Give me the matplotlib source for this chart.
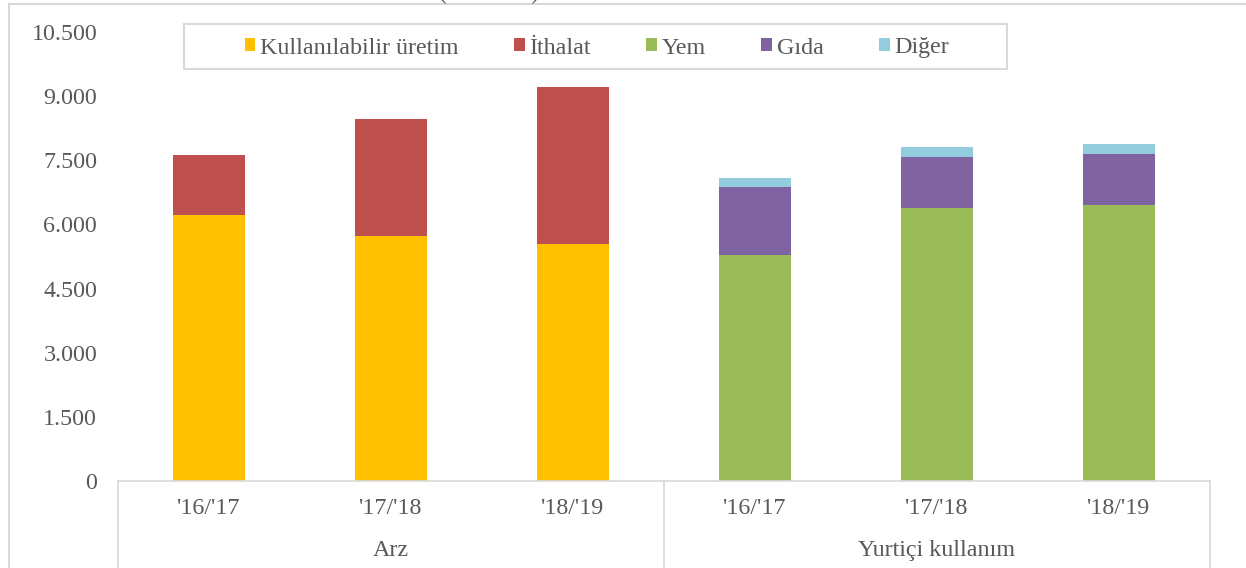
import matplotlib.pyplot as plt
import matplotlib.patches as mpatches
import matplotlib.transforms as mtransforms
from matplotlib.ticker import FuncFormatter
import numpy as np

# data (1000 ton)
periods = ["'16/'17", "'17/'18", "'18/'19", "'16/'17", "'17/'18", "'18/'19"]
groups = ["Arz", "Yurtiçi kullanım"]
uretim = [6220, 5740, 5545, 0, 0, 0]
ithalat = [1410, 2730, 3665, 0, 0, 0]
yem = [0, 0, 0, 5290, 6390, 6460]
gida = [0, 0, 0, 1575, 1190, 1180]
diger = [0, 0, 0, 225, 235, 245]

series = [("Kullanılabilir üretim", uretim, "#FFC000"),
          ("İthalat", ithalat, "#C0504D"),
          ("Yem", yem, "#9BBB59"),
          ("Gıda", gida, "#8064A2"),
          ("Diğer", diger, "#93CDDD")]

plt.rcParams['font.family'] = ['Liberation Serif', 'DejaVu Serif']
txt = "#595959"
grid_c = "#D9D9D9"
fs = 17.3

W, H = 1246, 568
fig = plt.figure(figsize=(W / 100, H / 100), dpi=100)
ax = fig.add_axes([118 / W, (H - 481) / H, 1092 / W, 449 / H])

x = np.arange(len(periods))
bottom = np.zeros(len(periods))
handles = []
for name, vals, col in series:
    vals = np.array(vals, dtype=float)
    b = ax.bar(x, vals, 0.4, bottom=bottom, color=col, label=name)
    handles.append(b)
    bottom += vals

ax.set_xlim(-0.5, 5.5)
ax.set_ylim(0, 10500)
ax.set_yticks(np.arange(0, 10501, 1500))
ax.yaxis.set_major_formatter(FuncFormatter(lambda v, p: f"{v:,.0f}".replace(",", ".")))
ax.tick_params(axis='y', length=0, pad=15, labelsize=fs, labelcolor=txt)
ax.set_xticks(x)
ax.set_xticklabels(periods)
ax.tick_params(axis='x', length=0, pad=12, labelsize=fs, labelcolor=txt)
for s in ['top', 'right', 'left']:
    ax.spines[s].set_visible(False)
ax.spines['bottom'].set_color(grid_c)
ax.spines['bottom'].set_linewidth(1.2)

# category group separators and labels
tr = mtransforms.blended_transform_factory(ax.transData, ax.transAxes)
for xs in [-0.5, 2.5, 5.5]:
    ax.plot([xs, xs], [0, -0.25], transform=tr, color=grid_c, lw=1.2, clip_on=False)
for i, g in enumerate(groups):
    ax.text(1 + 3 * i, -0.155, g, transform=tr, ha='center', va='center',
            fontsize=fs, color=txt)

# legend with its own frame
fig.legend(handles=handles, loc='center', bbox_to_anchor=(597 / W, (H - 48) / H),
           ncol=5, frameon=False, fontsize=fs, labelcolor=txt, handlelength=0.45,
           handleheight=0.45, handletextpad=0.2, columnspacing=2.3)
fig.patches.append(mpatches.Rectangle((184 / W, (H - 69) / H), 823 / W, 45 / H,
                                      transform=fig.transFigure, fill=False,
                                      edgecolor=grid_c, lw=1.5))
# outer chart border (partly cut off)
fig.patches.append(mpatches.Rectangle((9 / W, -0.1), 1.2, 1.1 - 4.5 / H,
                                      transform=fig.transFigure, fill=False,
                                      edgecolor=grid_c, lw=1.5))

# title is cut off at the top edge of the picture
fig.text(489.5 / W, 1.0 + 1 / H, "(1000 ton)", ha='center', va='baseline',
         fontsize=fs, color=txt)

fig.savefig("out.png", dpi=100)
